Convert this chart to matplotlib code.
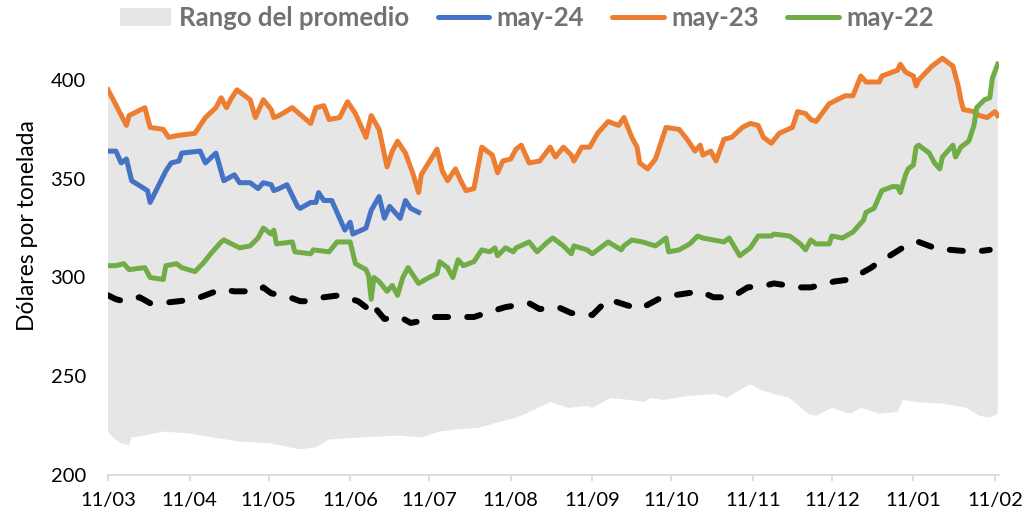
import numpy as np
import pandas as pd
import matplotlib
matplotlib.use("Agg")
import matplotlib.pyplot as plt
import matplotlib.dates as mdates
from matplotlib.patches import Patch
from matplotlib.lines import Line2D

# days counted from 11 March
inicio = pd.Timestamp("2024-03-11")

dias_may23 = [0, 2, 7, 8, 14, 16, 21, 23, 27, 33, 37, 41, 43, 45, 47, 49, 54, 56, 59, 62,
              63, 65, 70, 77, 79, 82, 84, 88, 91, 94, 98, 100, 103, 106, 108, 110, 113, 116, 118, 119,
              125, 127, 129, 132, 134, 136, 139, 142, 146, 148, 150, 153, 155, 157, 160, 164, 168, 170, 173, 176,
              177, 180, 183, 186, 190, 194, 196, 199, 201, 202, 205, 208, 210, 212, 217, 220, 223, 225, 226, 229,
              231, 234, 237, 241, 244, 247, 249, 252, 255, 260, 262, 265, 267, 269, 274, 280, 283, 286, 288, 293,
              294, 300, 301, 303, 306, 307, 308, 313, 315, 317, 321, 323, 324, 325, 329, 331, 334, 337, 338]
may23 = [395, 390, 377, 382, 386, 376, 375, 371, 372, 373, 381, 386, 391, 386, 391, 395, 390, 381, 390, 385,
         381, 382, 386, 378, 386, 387, 380, 381, 389, 383, 371, 382, 375, 356, 364, 369, 363, 352, 343, 352,
         365, 354, 349, 355, 349, 344, 345, 366, 362, 353, 359, 360, 365, 367, 358, 359, 366, 361, 366, 362,
         359, 366, 366, 373, 379, 377, 381, 371, 366, 358, 355, 360, 368, 376, 375, 370, 364, 367, 362, 364,
         359, 370, 371, 376, 378, 377, 371, 368, 373, 376, 384, 383, 380, 379, 388, 392, 392, 402, 399, 399,
         402, 405, 408, 404, 402, 397, 400, 407, 409, 411, 407, 397, 390, 385, 384, 382, 381, 384, 382]

dias_may24 = [0, 3, 5, 7, 9, 15, 16, 19, 22, 24, 27, 28, 35, 37, 41, 44, 48, 50, 54, 57,
              59, 62, 63, 65, 68, 72, 73, 77, 79, 80, 82, 85, 87, 90, 92, 93, 98, 100, 103, 105,
              107, 111, 113, 115, 118]
may24 = [364, 364, 358, 360, 349, 344, 338, 346, 354, 358, 359, 363, 364, 358, 363, 349, 352, 348, 348, 345,
         348, 347, 344, 345, 347, 336, 335, 338, 338, 343, 339, 339, 333, 324, 328, 322, 325, 334, 341, 330,
         336, 330, 339, 335, 333]

dias_may22 = [0, 3, 6, 8, 14, 16, 21, 22, 26, 28, 33, 36, 39, 43, 44, 50, 54, 57, 59, 62,
              63, 64, 70, 71, 77, 78, 84, 87, 92, 94, 98, 99, 100, 101, 103, 106, 108, 110, 112, 114,
              118, 122, 125, 126, 129, 131, 133, 135, 139, 142, 145, 147, 148, 151, 154, 155, 160, 163, 167, 169,
              173, 176, 177, 182, 184, 187, 190, 195, 196, 199, 203, 208, 212, 213, 217, 221, 224, 226, 230, 234,
              236, 240, 244, 247, 252, 253, 259, 263, 265, 267, 269, 274, 275, 279, 283, 285, 287, 288, 291, 292,
              294, 298, 300, 301, 303, 304, 306, 307, 308, 312, 314, 316, 317, 321, 322, 324, 327, 329, 330, 333,
              335, 336, 338]
may22 = [306, 306, 307, 304, 305, 300, 299, 306, 307, 305, 303, 307, 312, 318, 319, 315, 316, 320, 325, 322,
         324, 317, 318, 313, 312, 314, 313, 318, 318, 307, 304, 301, 289, 300, 298, 293, 296, 291, 300, 305,
         297, 300, 302, 308, 305, 300, 309, 306, 308, 314, 313, 315, 311, 315, 313, 315, 318, 313, 318, 320,
         316, 312, 316, 314, 312, 315, 318, 314, 316, 319, 318, 316, 320, 313, 314, 317, 321, 320, 319, 318,
         320, 311, 315, 321, 321, 322, 321, 317, 314, 319, 317, 317, 321, 320, 323, 326, 329, 333, 335, 338,
         344, 346, 346, 343, 352, 355, 357, 366, 367, 363, 358, 355, 361, 367, 361, 366, 369, 377, 386, 390,
         391, 401, 408]

dias_prom = [0, 3, 6, 12, 16, 20, 27, 33, 43, 48, 57, 59, 62, 69, 73, 76, 82, 88, 95, 99,
             100, 105, 111, 115, 119, 123, 132, 139, 146, 151, 160, 164, 171, 176, 184, 190, 197, 202, 209, 215,
             225, 230, 237, 243, 250, 253, 263, 267, 276, 282, 290, 293, 297, 303, 307, 308, 316, 320, 329, 335]
promedio = [291, 289, 288, 290, 287, 287, 288, 289, 294, 293, 293, 295, 292, 290, 288, 288, 290, 291, 288, 284,
            287, 279, 280, 277, 278, 280, 280, 280, 283, 285, 287, 284, 285, 282, 281, 289, 286, 284, 289, 291,
            293, 290, 290, 295, 296, 297, 295, 295, 298, 299, 305, 308, 311, 316, 318, 318, 314, 314, 313, 314]

dias_min = [0, 2, 5, 8, 9, 14, 21, 31, 40, 50, 62, 69, 73, 79, 84, 96, 111, 119, 126, 132,
            141, 149, 155, 162, 168, 175, 182, 184, 191, 198, 204, 206, 211, 220, 231, 235, 240, 244, 248, 253,
            259, 266, 269, 275, 282, 286, 293, 300, 302, 307, 318, 322, 326, 331, 335, 338]
rango_min = [222, 219, 216, 215, 219, 220, 222, 221, 219, 217, 216, 214, 213, 214, 218, 219, 220, 219, 222, 223,
             224, 227, 229, 233, 237, 234, 235, 234, 239, 238, 237, 239, 238, 240, 241, 239, 243, 246, 243, 241,
             239, 231, 230, 234, 231, 234, 231, 232, 238, 237, 236, 235, 234, 230, 229, 231]

meses = ["11/03", "11/04", "11/05", "11/06", "11/07", "11/08", "11/09", "11/10", "11/11", "11/12", "11/01", "11/02"]


def fechas(dias):
    return mdates.date2num(inicio + pd.to_timedelta(np.array(dias), unit="D"))


def main() -> None:
    plt.rcParams["font.family"] = ["Lato", "DejaVu Sans"]

    fig = plt.figure(figsize=(10.34, 5.22), dpi=100)
    ax = fig.add_axes([108 / 1034, 1 - 475 / 522, 891 / 1034, (475 - 40.5) / 522])

    x23, y23 = fechas(dias_may23), np.array(may23)
    x22, y22 = fechas(dias_may22), np.array(may22)
    xmin, ymin = fechas(dias_min), np.array(rango_min)

    # upper edge of the band: may-23 until green overtakes it near the end
    corte = 330
    sup_x = np.concatenate([x23[np.array(dias_may23) < corte], x22[np.array(dias_may22) >= corte]])
    sup_y = np.concatenate([y23[np.array(dias_may23) < corte], y22[np.array(dias_may22) >= corte]])
    ax.fill(np.concatenate([sup_x, xmin[::-1]]), np.concatenate([sup_y, ymin[::-1]]),
            color="#e6e6e6", lw=0, zorder=1)

    ax.plot(fechas(dias_prom), promedio, color="black", lw=4.3, dashes=(2.2, 3.2),
            dash_capstyle="round", solid_capstyle="round", zorder=2)
    ax.plot(fechas(dias_may24), may24, color="#4472c4", lw=3.6, solid_joinstyle="round", zorder=3)
    ax.plot(x23, y23, color="#ed7d31", lw=3.6, solid_joinstyle="round", zorder=3)
    ax.plot(x22, y22, color="#70ad47", lw=3.6, solid_joinstyle="round", zorder=4)

    ax.set_ylim(200, 420)
    ax.set_yticks([200, 250, 300, 350, 400])
    ax.set_xlim(fechas([0])[0], fechas([338.5])[0])
    ticks = [inicio + pd.DateOffset(months=i) for i in range(len(meses))]
    ax.set_xticks(mdates.date2num(ticks))
    ax.set_xticklabels(meses)

    for lado in ["top", "right", "left"]:
        ax.spines[lado].set_visible(False)
    ax.spines["bottom"].set_color("#d9d9d9")
    ax.spines["bottom"].set_linewidth(1.3)
    ax.tick_params(axis="y", length=0, pad=16, labelsize=14.5)
    ax.tick_params(axis="x", length=4.3, width=1.3, color="#d9d9d9", pad=8, labelsize=14.5)

    fig.text(28 / 1034, 1 - 226 / 522, "Dólares por tonelada", rotation=90,
             ha="center", va="center", fontsize=16.5)

    handles = [
        Patch(facecolor="#e6e6e6", edgecolor="none"),
        Line2D([], [], color="#4472c4", lw=3.6, solid_capstyle="round"),
        Line2D([], [], color="#ed7d31", lw=3.6, solid_capstyle="round"),
        Line2D([], [], color="#70ad47", lw=3.6, solid_capstyle="round"),
    ]
    etiquetas = ["Rango del promedio", "may-24", "may-23", "may-22"]
    fig.legend(handles, etiquetas, loc="center", bbox_to_anchor=(527 / 1034, 1 - 18 / 522),
               ncol=4, frameon=False, handlelength=2.0, handleheight=0.66, handletextpad=0.3,
               columnspacing=1.1, borderaxespad=0, borderpad=0,
               prop={"weight": "bold", "size": 18.5}, labelcolor="#767171")

    fig.savefig("out.png", dpi=100)


if __name__ == "__main__":
    main()
